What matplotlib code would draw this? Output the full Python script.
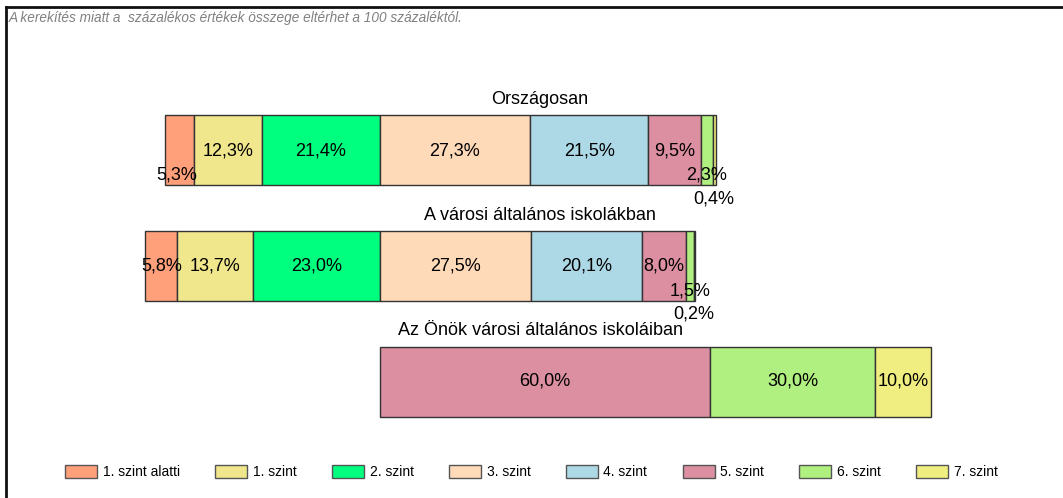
import matplotlib.pyplot as plt
from matplotlib.patches import Patch
from matplotlib.lines import Line2D

levels = ['1. szint alatti', '1. szint', '2. szint', '3. szint',
          '4. szint', '5. szint', '6. szint', '7. szint']
groups = ['Országosan', 'A városi általános iskolákban',
          'Az Önök városi általános iskoláiban']
orszagos = [5.3, 12.3, 21.4, 27.3, 21.5, 9.5, 2.3, 0.4]
varosi = [5.8, 13.7, 23.0, 27.5, 20.1, 8.0, 1.5, 0.2]
onok = [0, 0, 0, 0, 0, 60.0, 30.0, 10.0]
values = [orszagos, varosi, onok]

colors = ['#FFA07A', '#F0E68C', '#00FF7F', '#FFDAB9',
          '#ADD8E6', '#DB8FA0', '#B0F080', '#F0EE80']

# label offsets (pixels) for the thin segments
offsets = {(0, 0): (-2, -25), (0, 6): (-1, -25), (0, 7): (-1, -49),
           (1, 6): (0, -25), (1, 7): (-1, -48)}

plt.rcParams['font.family'] = ['Liberation Sans', 'DejaVu Sans']

fig = plt.figure(figsize=(10.63, 4.98), dpi=100)
ax = fig.add_axes([0, 0, 1, 1])
ax.axis('off')

# pixel layout: 0 % point at x=379.5, 5.51 px per percent; rows 115.5 px apart
zero_px, px_per = 379.5, 5.51
row_px, row0_px = 115.5, 150.5
ax.set_xlim(-zero_px / px_per, (1063 - zero_px) / px_per)
ax.set_ylim((498 - row0_px) / row_px, -row0_px / row_px)
bar_h = 70 / row_px

for i, vals in enumerate(values):
    left = -sum(vals[:3])
    for j, v in enumerate(vals):
        if v > 0:
            ax.barh(i, v, left=left, height=bar_h, color=colors[j],
                    edgecolor='#333333', linewidth=1)
            dx, dy = offsets.get((i, j), (0, 0))
            ax.annotate(f'{v:.1f}'.replace('.', ',') + '%',
                        (left + v / 2, i), xytext=(dx * 0.72, dy * 0.72),
                        textcoords='offset points', ha='center', va='center',
                        fontsize=13)
        left += v
    ax.annotate(groups[i], ((540 - zero_px) / px_per, i - bar_h / 2),
                xytext=(0, 16 * 0.72), textcoords='offset points',
                ha='center', va='center', fontsize=13)

fig.text(9 / 1063, 1 - 18 / 498,
         'A kerekítés miatt a  százalékos értékek összege eltérhet a 100 százaléktól.',
         fontsize=9.8, style='italic', color='#808080', va='center', ha='left')

fig.add_artist(Line2D([6 / 1063, 1], [1 - 7 / 498, 1 - 7 / 498],
                      transform=fig.transFigure, color='#111111', lw=2))
fig.add_artist(Line2D([6 / 1063, 6 / 1063], [0, 1 - 7 / 498],
                      transform=fig.transFigure, color='#111111', lw=2))

handles = [Patch(facecolor=c, edgecolor='#555555', label=l)
           for c, l in zip(colors, levels)]
fig.legend(handles=handles, ncol=8, loc='center', bbox_to_anchor=(0.5, 1 - 472 / 498),
           frameon=False, handlelength=2.3, handleheight=1.1,
           columnspacing=2.55, handletextpad=0.4,
           prop={'family': ['Liberation Sans'], 'size': 10})

fig.savefig('out.png', dpi=100)
